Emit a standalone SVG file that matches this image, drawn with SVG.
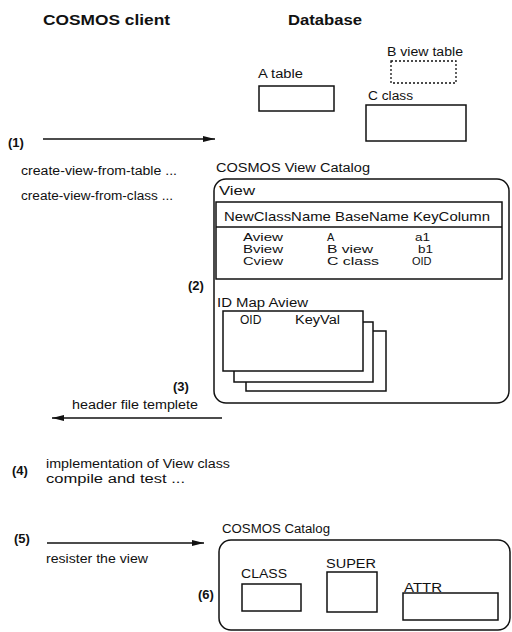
<svg xmlns="http://www.w3.org/2000/svg" width="512" height="632" viewBox="0 0 512 632">
<defs>
<style>
text{font-family:"Liberation Sans",Arial,sans-serif;fill:#111;font-size:12px}
.t{font-weight:bold;font-size:14px}
.n{font-weight:bold;font-size:13px}
.h{font-size:13px}
.r{font-size:11px}
.box{fill:none;stroke:#111;stroke-width:1.5}
.line{stroke:#111;stroke-width:1.3;fill:none}
</style>
<marker id="ah" viewBox="0 0 12 6" refX="12" refY="3" markerWidth="12" markerHeight="6" markerUnits="userSpaceOnUse" orient="auto">
<path d="M0,0 L12,3 L0,6 Z" fill="#111"/>
</marker>
</defs>
<rect width="512" height="632" fill="#fff"/>

<g id="headings">
<text class="t" x="43" y="25" textLength="127" lengthAdjust="spacingAndGlyphs">COSMOS client</text>
<text class="t" x="288" y="25" textLength="74" lengthAdjust="spacingAndGlyphs">Database</text>
</g>

<g id="a-table">
<text x="258" y="78" textLength="45" lengthAdjust="spacingAndGlyphs">A table</text>
<rect class="box" x="259" y="86" width="75" height="25"/>
</g>
<g id="b-view-table">
<text x="387" y="56" textLength="76" lengthAdjust="spacingAndGlyphs">B view table</text>
<rect x="391" y="61" width="65" height="22" fill="none" stroke="#111" stroke-width="1.3" stroke-dasharray="2,2"/>
</g>
<g id="c-class">
<text x="368" y="100" textLength="45" lengthAdjust="spacingAndGlyphs">C class</text>
<rect class="box" x="366" y="105" width="100" height="36"/>
</g>

<g id="step1">
<text class="n" x="8" y="147">(1)</text>
<text x="21" y="175" textLength="156" lengthAdjust="spacingAndGlyphs">create-view-from-table ...</text>
<text x="21" y="200" textLength="152" lengthAdjust="spacingAndGlyphs">create-view-from-class ...</text>
</g>

<g id="view-catalog">
<text x="216" y="172" textLength="154" lengthAdjust="spacingAndGlyphs">COSMOS View Catalog</text>
<rect class="box" x="214" y="179" width="295" height="224" rx="12"/>
<text class="h" x="219" y="195" textLength="36" lengthAdjust="spacingAndGlyphs">View</text>
<rect class="box" x="216" y="202" width="286" height="77"/>
<line class="line" x1="216" y1="227" x2="502" y2="227"/>
<text class="h" x="224" y="221" textLength="266" lengthAdjust="spacingAndGlyphs">NewClassName  BaseName  KeyColumn</text>
<text class="r" x="243" y="241" textLength="40" lengthAdjust="spacingAndGlyphs">Aview</text>
<text class="r" x="243" y="253" textLength="40" lengthAdjust="spacingAndGlyphs">Bview</text>
<text class="r" x="243" y="265" textLength="40" lengthAdjust="spacingAndGlyphs">Cview</text>
<text class="r" x="327" y="241">A</text>
<text class="r" x="327" y="253" textLength="46" lengthAdjust="spacingAndGlyphs">B view</text>
<text class="r" x="327" y="265" textLength="52" lengthAdjust="spacingAndGlyphs">C class</text>
<text class="r" x="415" y="241" textLength="15" lengthAdjust="spacingAndGlyphs">a1</text>
<text class="r" x="418" y="253" textLength="15" lengthAdjust="spacingAndGlyphs">b1</text>
<text class="r" x="412" y="265">OID</text>
</g>

<g id="id-map">
<text x="217" y="307" textLength="91" lengthAdjust="spacingAndGlyphs">ID Map Aview</text>
<rect class="box" x="246" y="331" width="140" height="60" style="fill:#fff"/>
<rect class="box" x="234" y="322" width="139" height="60" style="fill:#fff"/>
<rect class="box" x="223" y="311" width="140" height="60" style="fill:#fff"/>
<text x="240" y="324">OID</text>
<text x="295" y="324" textLength="45" lengthAdjust="spacingAndGlyphs">KeyVal</text>
</g>

<g id="step-labels">
<text class="n" x="188" y="290">(2)</text>
<text class="n" x="173" y="391">(3)</text>
<text x="72" y="409" textLength="126" lengthAdjust="spacingAndGlyphs">header file templete</text>
<text class="n" x="12" y="475">(4)</text>
<text x="46" y="468" textLength="184" lengthAdjust="spacingAndGlyphs">implementation of View class</text>
<text x="46" y="483" textLength="139" lengthAdjust="spacingAndGlyphs">compile and test ...</text>
<text class="n" x="14" y="543">(5)</text>
<text x="46" y="563" textLength="102" lengthAdjust="spacingAndGlyphs">resister the view</text>
<text class="n" x="198" y="599">(6)</text>
</g>

<g id="cosmos-catalog">
<text x="222" y="533" textLength="108" lengthAdjust="spacingAndGlyphs">COSMOS Catalog</text>
<rect class="box" x="219" y="540" width="291" height="90" rx="12"/>
</g>
<g id="class">
<text x="241" y="578" textLength="46" lengthAdjust="spacingAndGlyphs">CLASS</text>
<rect class="box" x="242" y="584" width="59" height="27"/>
</g>
<g id="super">
<text x="326" y="568" textLength="50" lengthAdjust="spacingAndGlyphs">SUPER</text>
<rect class="box" x="327" y="572" width="50" height="40"/>
</g>
<g id="attr">
<text x="404" y="592" textLength="38" lengthAdjust="spacingAndGlyphs">ATTR</text>
<rect class="box" x="403" y="593" width="95" height="27"/>
</g>

<g id="connectors">
<line class="line" x1="43" y1="139" x2="215" y2="139" marker-end="url(#ah)"/>
<line class="line" x1="222" y1="418" x2="52" y2="418" marker-end="url(#ah)"/>
<line class="line" x1="47" y1="543" x2="204" y2="543" marker-end="url(#ah)"/>
</g>
</svg>
